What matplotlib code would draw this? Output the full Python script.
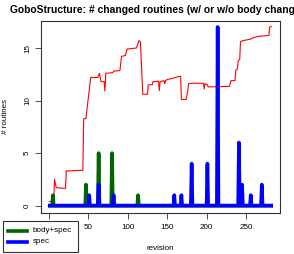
import numpy as np
import matplotlib
matplotlib.use("Agg")
import matplotlib.pyplot as plt
from matplotlib.lines import Line2D
from matplotlib.patches import Rectangle

plt.rcParams['font.family'] = ['Liberation Sans', 'DejaVu Sans']

# revisions covered
rev_first, rev_last = 1, 282

# red line: breakpoints (revision, value)
red_rev = [1, 5, 6, 7, 9, 10, 21, 22, 43, 44, 47, 48, 53, 62, 64, 66, 70, 71, 72,
           81, 82, 90, 92, 97, 99, 111, 114, 116, 119, 125, 126, 131, 132, 139,
           140, 141, 146, 147, 148, 150, 156, 165, 167, 168, 174, 176, 177, 182,
           196, 197, 198, 201, 202, 229, 231, 236, 237, 239, 240, 242, 243, 246,
           256, 258, 265, 279, 280, 282]
red_val = [0.4, 0.4, 0.0, 2.5, 1.8, 1.7, 1.65, 3.3, 3.37, 8.26, 8.3, 9.05, 12.2,
           12.2, 12.6, 11.8, 11.8, 10.9, 12.6, 12.65, 12.8, 12.85, 14.2, 14.3,
           14.9, 15.0, 15.7, 15.6, 10.6, 10.6, 11.5, 11.5, 11.8, 11.85, 10.95,
           11.8, 11.9, 11.6, 11.9, 12.0, 12.1, 12.3, 12.3, 10.1, 10.1, 10.9, 11.6,
           11.65, 11.65, 11.1, 11.6, 11.5, 11.3, 11.35, 11.9, 11.9, 12.9, 13.0,
           13.8, 13.9, 15.6, 15.7, 15.85, 15.95, 16.1, 16.2, 17.0, 17.05]

# body+spec spikes
bs_rev = [5, 47, 63, 80, 113]
bs_val = [1, 2, 5, 5, 1]

# spec spikes
sp_rev = [51, 63, 82, 159, 168, 181, 201, 214, 241, 245, 256, 270]
sp_val = [1, 2, 1, 1, 1, 4, 4, 17, 6, 2, 1, 2]

legend_labels = ['body+spec', 'spec']

revs = np.arange(rev_first, rev_last + 1)
body_spec = np.zeros(len(revs))
body_spec[np.array(bs_rev) - rev_first] = bs_val
spec = np.zeros(len(revs))
spec[np.array(sp_rev) - rev_first] = sp_val

W, H = 294, 254
fig = plt.figure(figsize=(W/100, H/100), dpi=100)
ax = fig.add_axes([40.7/W, 1-212.7/H, (280-40.7)/W, (212.7-20.7)/H])

ax.plot(red_rev, red_val, color='#ff0000', lw=0.8)
ax.plot(revs, body_spec, color='#006400', lw=2.6, solid_joinstyle='round')
ax.plot(revs, spec, color='#0000ff', lw=2.6, solid_joinstyle='round')

ax.set_xlim(-10.5, 293.1)
ax.set_ylim(-0.67, 17.6)
ax.set_xticks([0, 50, 100, 150, 200, 250])
ax.set_yticks([0, 5, 10, 15])
ax.tick_params(labelsize=5.8, length=4, width=0.6, color='#333333')
ax.tick_params(axis='x', pad=4.3)
ax.tick_params(axis='y', pad=3.0)
for lab in ax.get_yticklabels():
    lab.set_rotation(90)
    lab.set_va('center')
for s in ax.spines.values():
    s.set_linewidth(0.8)
    s.set_color('#333333')

fig.text((40.7+280)/2/W, 1-10/H, 'GoboStructure: # changed routines (w/ or w/o body changes)',
         ha='center', va='center', fontsize=7.35, fontweight='bold')
fig.text(160/W, 1-249/H, 'revision', ha='center', va='center', fontsize=5.8)
fig.text(6/W, 1-116/H, '# routines', ha='center', va='center', fontsize=5.8, rotation=90)

# legend drawn in figure pixels, outside the plot region (white box hides the "0" label)
fig.patches.append(Rectangle((2.7/W, 1-251.7/H), 75/W, 30.7/H, transform=fig.transFigure,
                             facecolor='white', edgecolor='#333333', lw=0.8, zorder=5))
for i, (lab, col) in enumerate(zip(legend_labels, ['#006400', '#0000ff'])):
    y = 1 - (231 + 10.7*i)/H
    fig.lines.append(Line2D([8.3/W, 26.7/W], [y, y], transform=fig.transFigure,
                            color=col, lw=2.6, zorder=6))
    fig.text(32.7/W, y, lab, ha='left', va='center', fontsize=5.8, zorder=6)

fig.savefig('out.png', dpi=100)
